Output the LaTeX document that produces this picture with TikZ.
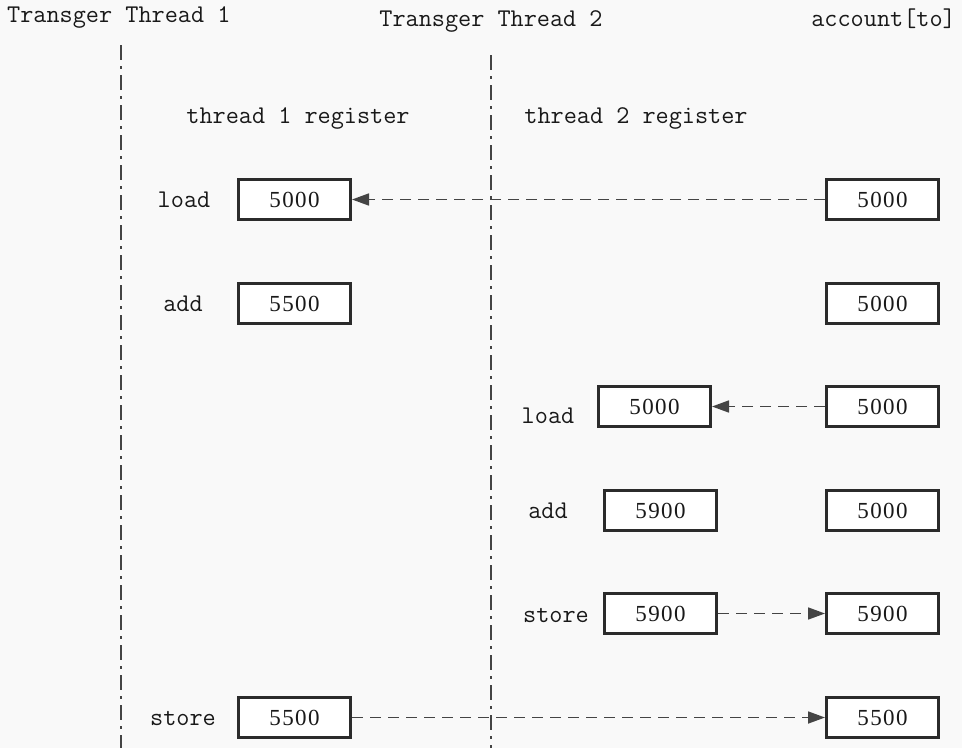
\documentclass[tikz,border=0pt]{standalone}
\usepackage{fontspec}
\usetikzlibrary{arrows.meta}
\newfontfamily\numfont[LetterSpace=6]{Liberation Serif}
\definecolor{bgc}{HTML}{F9F9F9}
\definecolor{linec}{HTML}{2B2B2B}
\definecolor{dashc}{HTML}{444444}
\tikzset{
  regbox/.style={draw=linec, line width=3pt, fill=white, minimum width=112pt, minimum height=40pt, inner sep=0pt, font=\numfont\fontsize{23}{23}\selectfont, text=black!90},
  lbl/.style={font=\ttfamily\fontsize{25.5}{25.5}\selectfont, text=black!90, inner sep=0pt},
  lane/.style={draw=dashc, line width=1.5pt, dash pattern=on 15pt off 6pt on 3pt off 6pt},
  flow/.style={draw=dashc, line width=1.7pt, dash pattern=on 11pt off 7pt, -{Triangle[length=17pt, width=12pt]}}
}
\begin{document}
\begin{tikzpicture}[x=1pt, y=-1pt]
\fill[bgc] (0,0) rectangle (962,748);
\useasboundingbox (0,0) rectangle (962,748);
% titles
\node[lbl, anchor=base west] (t1) at (7,22) {Transger Thread 1};
\node[lbl, anchor=base] (t2) at (491,26) {Transger Thread 2};
\node[lbl, anchor=base east] (acc) at (956,26) {account[to]};
\node[lbl, anchor=base] (r1) at (298,123) {thread 1 register};
\node[lbl, anchor=base] (r2) at (636,123) {thread 2 register};
% lanes
\coordinate (l1a) at (121,45); \coordinate (l1b) at (121,748);
\coordinate (l2a) at (491,55); \coordinate (l2b) at (491,748);
\draw[lane] (l1a) -- (l1b);
\draw[lane] (l2a) -- (l2b);
% thread 1 boxes
\node[regbox] (a1) at (294.5,199.5) {5000};
\node[regbox] (a2) at (294.5,303.5) {5500};
\node[regbox] (a3) at (294.5,717.5) {5500};
\node[lbl, anchor=base] (la1) at (184,207) {load};
\node[lbl, anchor=base] (la2) at (183,311) {add};
\node[lbl, anchor=base] (la3) at (183,725) {store};
% thread 2 boxes
\node[regbox] (b1) at (654.5,406.5) {5000};
\node[regbox] (b2) at (660.5,510.5) {5900};
\node[regbox] (b3) at (660.5,613.5) {5900};
\node[lbl, anchor=base] (lb1) at (548,423) {load};
\node[lbl, anchor=base] (lb2) at (548,518) {add};
\node[lbl, anchor=base] (lb3) at (556,622) {store};
% account boxes
\node[regbox] (c1) at (882.5,199.5) {5000};
\node[regbox] (c2) at (882.5,303.5) {5000};
\node[regbox] (c3) at (882.5,406.5) {5000};
\node[regbox] (c4) at (882.5,510.5) {5000};
\node[regbox] (c5) at (882.5,613.5) {5900};
\node[regbox] (c6) at (882.5,717.5) {5500};
% flows
\draw[flow] (c1.west) -- (a1.east);
\draw[flow] (c3.west) -- (b1.east);
\draw[flow] (b3.east) -- (c5.west);
\draw[flow] (a3.east) -- (c6.west);
\end{tikzpicture}
\end{document}
